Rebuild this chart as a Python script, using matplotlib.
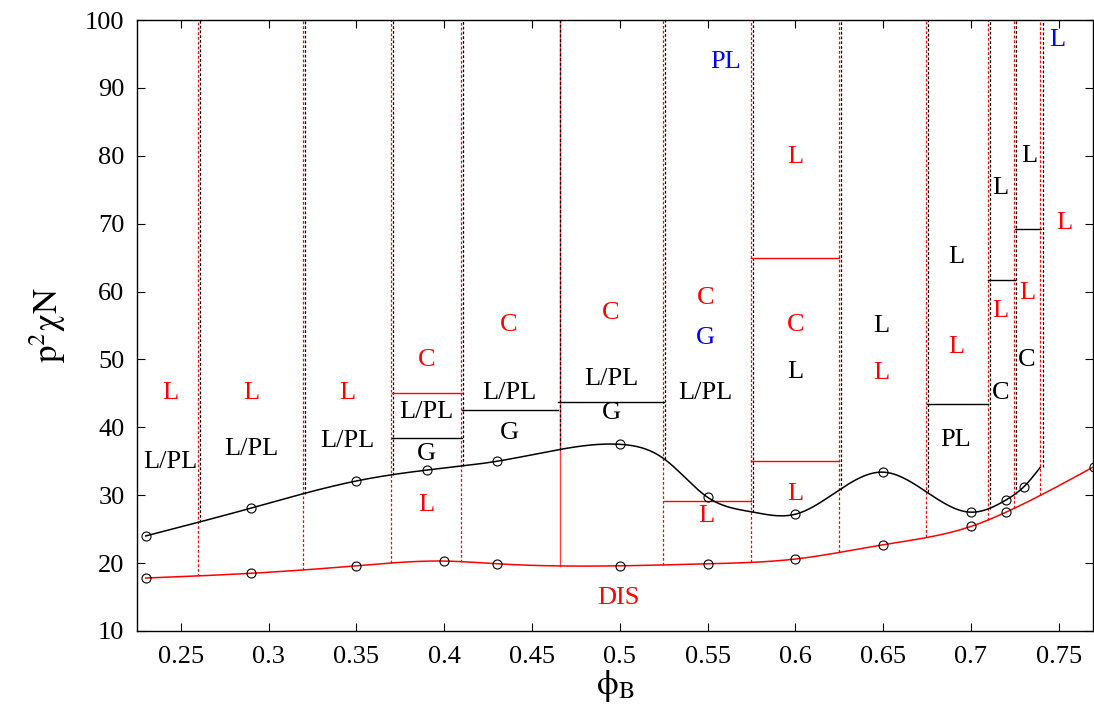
import numpy as np
import matplotlib
matplotlib.use("Agg")
import matplotlib.pyplot as plt

plt.rcParams['font.family'] = ['Liberation Serif', 'DejaVu Serif']
plt.rcParams['mathtext.fontset'] = 'stix'

# ---- data ----
# order-disorder (DIS) line: computed points (circles)
phi_odt = [0.23, 0.29, 0.35, 0.40, 0.43, 0.50, 0.55, 0.60, 0.65, 0.70, 0.72, 0.77]
chi_odt = [17.8, 18.5, 19.6, 20.3, 19.9, 19.6, 19.9, 20.6, 22.7, 25.4, 27.5, 34.2]

# upper transition line: computed points (circles)
phi_top = [0.23, 0.29, 0.35, 0.39, 0.43, 0.50, 0.55, 0.60, 0.65, 0.70, 0.72, 0.73]
chi_top = [24.0, 28.1, 32.1, 33.7, 35.0, 37.5, 29.7, 27.2, 33.4, 27.5, 29.3, 31.2]

# upper transition line as drawn (circle points plus a few values)
phi_top_line = [0.23, 0.29, 0.35, 0.39, 0.43, 0.465, 0.50, 0.525, 0.55, 0.575, 0.60,
                0.65, 0.70, 0.72, 0.73, 0.7395]
chi_top_line = [24.0, 28.1, 32.1, 33.7, 35.0, 36.7, 37.5, 35.4, 29.7, 27.55, 27.2,
                33.4, 27.5, 29.3, 31.2, 34.1]

boundaries = [0.26, 0.32, 0.37, 0.41, 0.465, 0.525, 0.575, 0.625, 0.675, 0.71, 0.725, 0.74]
solid_boundary = 0.465

seg_x0 = [0.37, 0.37, 0.41, 0.465, 0.525, 0.575, 0.575, 0.675, 0.71, 0.725]
seg_x1 = [0.41, 0.41, 0.465, 0.525, 0.575, 0.625, 0.625, 0.71, 0.725, 0.74]
seg_y = [45.0, 38.4, 42.5, 43.7, 29.1, 65.0, 35.0, 43.4, 61.7, 69.2]
seg_c = ['red', 'black', 'black', 'black', 'red', 'red', 'red', 'black', 'black', 'black']

lab_text = ['L', 'L/PL', 'L', 'L/PL', 'L', 'L/PL',
            'C', 'L/PL', 'G', 'L',
            'C', 'L/PL', 'G',
            'C', 'L/PL', 'G',
            'PL', 'C', 'G', 'L/PL', 'L',
            'L', 'C', 'L', 'L',
            'L', 'L',
            'L', 'L', 'PL',
            'L', 'L', 'C',
            'L', 'L', 'C',
            'L', 'L', 'DIS']
lab_x = [0.244, 0.244, 0.290, 0.290, 0.345, 0.345,
         0.390, 0.390, 0.390, 0.390,
         0.437, 0.437, 0.437,
         0.495, 0.495, 0.495,
         0.560, 0.549, 0.549, 0.549, 0.549,
         0.600, 0.600, 0.600, 0.600,
         0.649, 0.649,
         0.6915, 0.6915, 0.6915,
         0.717, 0.717, 0.717,
         0.733, 0.732, 0.732,
         0.7494, 0.7534, 0.4994]
lab_y = [45.1, 34.9, 45.1, 36.8, 45.1, 38.0,
         49.9, 42.3, 36.1, 28.6,
         55.1, 45.1, 39.2,
         56.8, 47.1, 42.1,
         93.8, 59.0, 53.2, 45.1, 26.9,
         79.8, 55.1, 48.1, 30.2,
         54.9, 48.0,
         65.1, 51.8, 38.1,
         75.3, 57.1, 45.1,
         80.0, 59.8, 49.9,
         97.0, 70.1, 14.9]
lab_c = ['red', 'black', 'red', 'black', 'red', 'black',
         'red', 'black', 'black', 'red',
         'red', 'black', 'black',
         'red', 'black', 'black',
         'blue', 'red', 'blue', 'black', 'red',
         'red', 'red', 'black', 'red',
         'black', 'red',
         'black', 'red', 'black',
         'black', 'red', 'black',
         'black', 'red', 'black',
         'blue', 'red', 'red']

xticks = [0.25, 0.3, 0.35, 0.4, 0.45, 0.5, 0.55, 0.6, 0.65, 0.7, 0.75]
xticklabels = ['0.25', '0.3', '0.35', '0.4', '0.45', '0.5', '0.55', '0.6', '0.65', '0.7', '0.75']
yticks = [10, 20, 30, 40, 50, 60, 70, 80, 90, 100]


def natural_spline(x, y, xs):
    x = np.asarray(x, float)
    y = np.asarray(y, float)
    n = len(x)
    h = np.diff(x)
    A = np.zeros((n, n))
    b = np.zeros(n)
    A[0, 0] = 1.0
    A[-1, -1] = 1.0
    for i in range(1, n - 1):
        A[i, i - 1] = h[i - 1]
        A[i, i] = 2 * (h[i - 1] + h[i])
        A[i, i + 1] = h[i]
        b[i] = 6 * ((y[i + 1] - y[i]) / h[i] - (y[i] - y[i - 1]) / h[i - 1])
    M = np.linalg.solve(A, b)
    xs = np.asarray(xs, float)
    idx = np.clip(np.searchsorted(x, xs) - 1, 0, n - 2)
    x0, x1 = x[idx], x[idx + 1]
    hh = x1 - x0
    t0 = x1 - xs
    t1 = xs - x0
    return (M[idx] * t0 ** 3 / (6 * hh) + M[idx + 1] * t1 ** 3 / (6 * hh)
            + (y[idx] / hh - M[idx] * hh / 6) * t0
            + (y[idx + 1] / hh - M[idx + 1] * hh / 6) * t1)


fig = plt.figure(figsize=(10.94, 7.15), dpi=100)
ax = fig.add_axes([0.1252, 0.1175, 0.8738, 0.8545])

# curves
xr = np.linspace(phi_odt[0], phi_odt[-1], 800)
ax.plot(xr, natural_spline(phi_odt, chi_odt, xr), color='red', lw=1.1, zorder=3)
xb = np.linspace(phi_top_line[0], phi_top_line[-1], 800)
ax.plot(xb, natural_spline(phi_top_line, chi_top_line, xb), color='black', lw=1.1, zorder=3)

ax.plot(phi_odt, chi_odt, 'o', mfc='none', mec='black', ms=6.5, mew=0.8, zorder=4, clip_on=False)
ax.plot(phi_top, chi_top, 'o', mfc='none', mec='black', ms=6.5, mew=0.8, zorder=4)

# phase boundaries
ymax = 100
for b in boundaries:
    yr = float(natural_spline(phi_odt, chi_odt, [b])[0])
    yb = float(natural_spline(phi_top_line, chi_top_line, [min(b, phi_top_line[-1])])[0])
    if b == solid_boundary:
        ax.plot([b + 0.0008, b + 0.0008], [yr, ymax], color='#ff4040', lw=1.0, zorder=2)
    else:
        ax.plot([b - 0.0004, b - 0.0004], [yr, ymax], color='red', lw=0.9,
                ls=(0, (2.2, 1.6)), zorder=2)
    ax.plot([b + 0.0008, b + 0.0008], [yb, ymax], color='black', lw=0.9,
            ls=(0, (2.2, 1.6)), zorder=2)

for x0, x1, y, c in zip(seg_x0, seg_x1, seg_y, seg_c):
    ax.plot([x0, x1], [y, y], color=c, lw=1.0, zorder=2)

for t, x, y, c in zip(lab_text, lab_x, lab_y, lab_c):
    ax.text(x, y, t, color=c, fontsize=19, ha='center', va='center', zorder=5)

ax.set_xlim(0.225, 0.7695)
ax.set_ylim(10, 100)
ax.set_xticks(xticks)
ax.set_xticklabels(xticklabels)
ax.set_yticks(yticks)
ax.tick_params(direction='in', length=6, width=0.8, top=True, right=True,
               labelsize=19)
ax.tick_params(axis='x', pad=11)
ax.tick_params(axis='y', pad=9)
for s in ax.spines.values():
    s.set_linewidth(1.0)

ax.set_xlabel(r'$\mathrm{\phi}_\mathrm{B}$', fontsize=25, labelpad=0)
ax.set_ylabel(r'$\mathrm{p}^2\mathrm{\chi N}$', fontsize=25, labelpad=12)

fig.savefig('out.png', dpi=100)
